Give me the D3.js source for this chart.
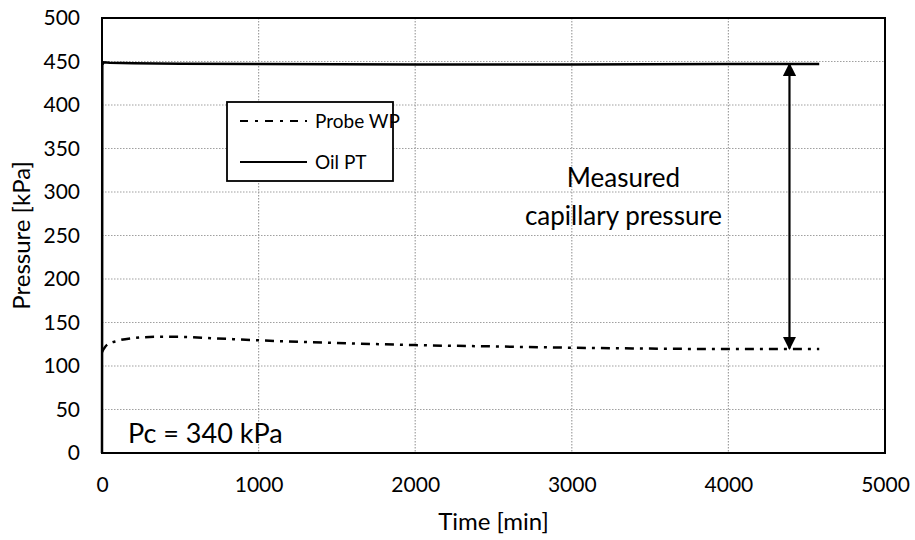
<!DOCTYPE html>
<html lang="en">
<head>
<meta charset="UTF-8" />
<title>Pressure vs time</title>
<style>
  body { margin: 0; background: #fff; }
  text { font-family: Lato, "Open Sans", sans-serif; fill: #000; }
</style>
</head>
<body>
<svg width="915" height="540"></svg>
<script src="https://d3js.org/d3.v7.min.js"></script>
<script>
// data
var oilTime = [0, 2, 10, 50, 200, 500, 1000, 2000, 3000, 4000, 4580];
var oilP    = [0, 446, 449, 448.5, 448, 447.5, 447, 446.5, 446.5, 447, 447];
var probeTime = [0, 30, 100, 200, 350, 500, 700, 1000, 1500, 2000, 2500, 3000, 3500, 4000, 4580];
var probeP    = [116, 124, 129, 132, 133.5, 133.5, 132, 129.5, 126.5, 124, 122.5, 121, 120, 119.5, 119.5];
var xTicks = [0, 1000, 2000, 3000, 4000, 5000];
var yTicks = [0, 50, 100, 150, 200, 250, 300, 350, 400, 450, 500];
var arrowTime = 4390, arrowTop = 447, arrowBottom = 120;

var svg = d3.select("svg"),
    margin = {top: 18, right: 30, bottom: 87, left: 102},
    width = +svg.attr("width") - margin.left - margin.right,
    height = +svg.attr("height") - margin.top - margin.bottom;

var x = d3.scaleLinear().domain([0, 5000]).range([0, width]);
var y = d3.scaleLinear().domain([0, 500]).range([height, 0]);

var defs = svg.append("defs");
defs.append("marker").attr("id", "tri")
    .attr("viewBox", "0 0 10 10").attr("refX", 9).attr("refY", 5)
    .attr("markerWidth", 6).attr("markerHeight", 6)
    .attr("orient", "auto-start-reverse")
    .append("path").attr("d", "M0,0L10,5L0,10Z").attr("fill", "#000");

var g = svg.append("g").attr("transform", "translate(" + margin.left + "," + margin.top + ")");

// grid
g.append("g").selectAll("line").data(yTicks.slice(1, -1)).enter().append("line")
    .attr("x1", 0).attr("x2", width)
    .attr("y1", d => y(d)).attr("y2", d => y(d))
    .attr("stroke", "#a0a0a0").attr("stroke-width", 1.2).attr("stroke-dasharray", "1.5,1.5");
g.append("g").selectAll("line").data(xTicks.slice(1, -1)).enter().append("line")
    .attr("y1", 0).attr("y2", height)
    .attr("x1", d => x(d)).attr("x2", d => x(d))
    .attr("stroke", "#a0a0a0").attr("stroke-width", 1.2).attr("stroke-dasharray", "1.5,1.5");

// axes (labels only)
var xAxis = g.append("g").attr("transform", "translate(0," + height + ")")
    .call(d3.axisBottom(x).tickValues(xTicks).tickFormat(d3.format("d")).tickSize(0).tickPadding(24));
var yAxis = g.append("g")
    .call(d3.axisLeft(y).tickValues(yTicks).tickFormat(d3.format("d")).tickSize(0).tickPadding(22));
[xAxis, yAxis].forEach(function(a) {
  a.select(".domain").remove();
  a.selectAll("text").style("font-size", "21px").attr("fill", "#000");
});

// plot frame
g.append("rect").attr("width", width).attr("height", height)
    .attr("fill", "none").attr("stroke", "#000").attr("stroke-width", 2);

var line = d3.line().x(d => x(d[0])).y(d => y(d[1])).curve(d3.curveMonotoneX);

g.append("path").datum(probeTime.map((t, i) => [t, probeP[i]]))
    .attr("d", line).attr("fill", "none").attr("stroke", "#000")
    .attr("stroke-width", 2.5).attr("stroke-dasharray", "9,6,3,6");
g.append("path").datum(oilTime.map((t, i) => [t, oilP[i]]))
    .attr("d", d3.line().x(d => x(d[0])).y(d => y(d[1])))
    .attr("fill", "none").attr("stroke", "#000").attr("stroke-width", 2.5);

// arrow
g.append("line")
    .attr("x1", x(arrowTime)).attr("x2", x(arrowTime))
    .attr("y1", y(arrowTop)).attr("y2", y(arrowBottom))
    .attr("stroke", "#000").attr("stroke-width", 2.2)
    .attr("marker-start", "url(#tri)").attr("marker-end", "url(#tri)");

// annotations
g.append("text").attr("x", x(3330)).attr("y", y(306)).attr("text-anchor", "middle")
    .style("font-size", "26px").text("Measured");
g.append("text").attr("x", x(3330)).attr("y", y(262)).attr("text-anchor", "middle")
    .style("font-size", "26px").text("capillary pressure");
g.append("text").attr("x", x(166)).attr("y", y(12)).style("font-size", "27px").text("Pc = 340 kPa");

// legend
var leg = g.append("g").attr("transform", "translate(" + (227 - margin.left) + "," + (102 - margin.top) + ")");
leg.append("rect").attr("width", 166).attr("height", 79)
    .attr("fill", "#fff").attr("stroke", "#000").attr("stroke-width", 1.8);
var legItems = [["Probe WP", "8,7,3,7"], ["Oil PT", null]];
legItems.forEach(function(d, i) {
  var yy = 19 + i * 41;
  leg.append("line").attr("x1", 13).attr("x2", 80).attr("y1", yy).attr("y2", yy)
     .attr("stroke", "#000").attr("stroke-width", 2.2)
     .attr("stroke-dasharray", d[1]);
  leg.append("text").attr("x", 88).attr("y", yy).attr("dy", "0.35em")
     .style("font-size", "19px").text(d[0]);
});

// axis titles
svg.append("text").attr("x", margin.left + width / 2).attr("y", 530)
    .attr("text-anchor", "middle").style("font-size", "24px").text("Time [min]");
svg.append("text").attr("transform", "translate(30," + (margin.top + height / 2) + ") rotate(-90)")
    .attr("text-anchor", "middle").style("font-size", "24px").text("Pressure [kPa]");
</script>
</body>
</html>
